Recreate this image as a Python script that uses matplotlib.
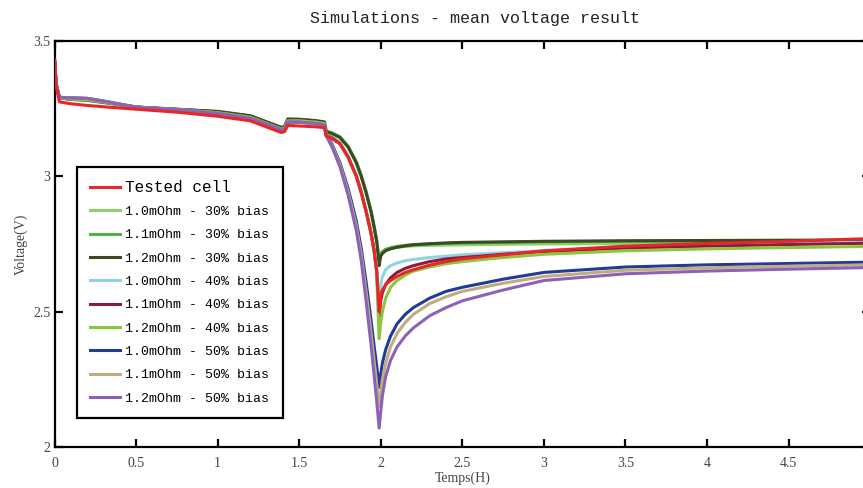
"""Simulated vs tested cell mean voltage during a discharge pulse."""

import matplotlib

matplotlib.use("Agg")
import matplotlib.pyplot as plt

# time axis (hours), shared by every series
TIME = [
    0, 0.01, 0.03, 0.1, 0.2, 0.3, 0.5, 0.75, 1.0, 1.2, 1.39, 1.41, 1.43, 1.5, 1.6, 1.655,
    1.665, 1.7, 1.75, 1.8, 1.85, 1.88, 1.91, 1.94, 1.96, 1.975, 1.99,
    2.0, 2.01, 2.03, 2.06, 2.1, 2.15, 2.2, 2.3, 2.4, 2.5, 2.75, 3.0, 3.5, 4.0, 4.5, 5.0,
]

TESTED_CELL = [
    3.43, 3.33, 3.275, 3.268, 3.262, 3.257, 3.248, 3.237, 3.222, 3.205, 3.162, 3.165, 3.188, 3.186, 3.183, 3.18,
    3.15, 3.14, 3.12, 3.07, 3.0, 2.94, 2.87, 2.79, 2.72, 2.65, 2.50,
    2.56, 2.58, 2.60, 2.615, 2.63, 2.645, 2.655, 2.672, 2.685, 2.695, 2.71, 2.725, 2.742, 2.752, 2.76, 2.77,
]

R10_B30 = [
    3.43, 3.34, 3.29, 3.284, 3.28, 3.272, 3.255, 3.247, 3.238, 3.222, 3.178, 3.18, 3.208, 3.207, 3.203, 3.198,
    3.168, 3.162, 3.147, 3.112, 3.055, 3.005, 2.945, 2.875, 2.815, 2.765, 2.70,
    2.715, 2.722, 2.73, 2.735, 2.738, 2.741, 2.743, 2.745, 2.746, 2.747, 2.749, 2.75, 2.752, 2.753, 2.754, 2.755,
]
R11_B30 = [
    3.43, 3.34, 3.29, 3.284, 3.281, 3.273, 3.256, 3.248, 3.239, 3.223, 3.18, 3.183, 3.21, 3.21, 3.205, 3.2,
    3.166, 3.16, 3.145, 3.11, 3.052, 3.002, 2.942, 2.872, 2.812, 2.762, 2.69,
    2.712, 2.72, 2.73, 2.736, 2.741, 2.745, 2.748, 2.75, 2.752, 2.754, 2.756, 2.758, 2.76, 2.761, 2.762, 2.762,
]
R12_B30 = [
    3.43, 3.34, 3.29, 3.285, 3.282, 3.274, 3.256, 3.248, 3.24, 3.224, 3.181, 3.184, 3.212, 3.211, 3.206, 3.201,
    3.165, 3.158, 3.143, 3.108, 3.05, 3.0, 2.94, 2.87, 2.81, 2.76, 2.67,
    2.705, 2.715, 2.725, 2.732, 2.738, 2.743, 2.747, 2.751, 2.754, 2.756, 2.758, 2.76, 2.762, 2.763, 2.764, 2.765,
]

R10_B40 = [
    3.43, 3.34, 3.29, 3.285, 3.283, 3.275, 3.255, 3.247, 3.235, 3.218, 3.175, 3.178, 3.205, 3.205, 3.2, 3.195,
    3.155, 3.145, 3.125, 3.075, 3.005, 2.945, 2.875, 2.795, 2.73, 2.66, 2.54,
    2.60, 2.63, 2.655, 2.67, 2.68, 2.688, 2.693, 2.70, 2.705, 2.71, 2.718, 2.725, 2.738, 2.746, 2.752, 2.757,
]
R11_B40 = [
    3.43, 3.34, 3.29, 3.285, 3.283, 3.275, 3.255, 3.247, 3.235, 3.218, 3.175, 3.178, 3.205, 3.205, 3.2, 3.195,
    3.155, 3.143, 3.122, 3.072, 3.002, 2.942, 2.872, 2.792, 2.725, 2.65, 2.48,
    2.54, 2.57, 2.60, 2.625, 2.645, 2.66, 2.67, 2.685, 2.695, 2.70, 2.712, 2.722, 2.735, 2.742, 2.748, 2.753,
]
R12_B40 = [
    3.43, 3.34, 3.29, 3.285, 3.283, 3.275, 3.255, 3.247, 3.235, 3.218, 3.175, 3.178, 3.205, 3.205, 3.2, 3.195,
    3.155, 3.14, 3.12, 3.07, 3.0, 2.94, 2.87, 2.79, 2.72, 2.64, 2.40,
    2.46, 2.50, 2.55, 2.59, 2.615, 2.635, 2.65, 2.665, 2.677, 2.685, 2.70, 2.712, 2.725, 2.732, 2.737, 2.741,
]

R10_B50 = [
    3.43, 3.34, 3.292, 3.29, 3.288, 3.278, 3.256, 3.246, 3.232, 3.214, 3.172, 3.175, 3.2, 3.2, 3.195, 3.19,
    3.155, 3.12, 3.05, 2.955, 2.835, 2.735, 2.61, 2.47, 2.37, 2.30, 2.22,
    2.27, 2.31, 2.36, 2.41, 2.455, 2.49, 2.515, 2.55, 2.575, 2.59, 2.62, 2.645, 2.665, 2.673, 2.678, 2.683,
]
R11_B50 = [
    3.43, 3.34, 3.292, 3.29, 3.288, 3.278, 3.256, 3.246, 3.232, 3.214, 3.172, 3.175, 3.2, 3.2, 3.195, 3.19,
    3.152, 3.115, 3.043, 2.943, 2.818, 2.713, 2.575, 2.425, 2.315, 2.235, 2.15,
    2.20, 2.25, 2.31, 2.37, 2.42, 2.46, 2.49, 2.53, 2.555, 2.575, 2.605, 2.63, 2.653, 2.662, 2.668, 2.673,
]
R12_B50 = [
    3.43, 3.34, 3.292, 3.29, 3.288, 3.278, 3.256, 3.246, 3.232, 3.214, 3.172, 3.175, 3.2, 3.2, 3.195, 3.19,
    3.15, 3.11, 3.035, 2.93, 2.80, 2.69, 2.54, 2.38, 2.26, 2.17, 2.07,
    2.13, 2.19, 2.26, 2.32, 2.37, 2.41, 2.44, 2.485, 2.515, 2.54, 2.58, 2.615, 2.64, 2.65, 2.657, 2.663,
]

LABELS = [
    "Tested cell",
    "1.0mOhm - 30% bias",
    "1.1mOhm - 30% bias",
    "1.2mOhm - 30% bias",
    "1.0mOhm - 40% bias",
    "1.1mOhm - 40% bias",
    "1.2mOhm - 40% bias",
    "1.0mOhm - 50% bias",
    "1.1mOhm - 50% bias",
    "1.2mOhm - 50% bias",
]
COLORS = [
    "#e8262a", "#8fd16a", "#4fb14f", "#3b4a22", "#90d4e2",
    "#8a1c3c", "#8cc63f", "#1f3c96", "#c3ab80", "#8b62b8",
]
SERIES = [
    TESTED_CELL, R10_B30, R11_B30, R12_B30, R10_B40,
    R11_B40, R12_B40, R10_B50, R11_B50, R12_B50,
]

X_TICKS = [0, 0.5, 1, 1.5, 2, 2.5, 3, 3.5, 4, 4.5, 5]
Y_TICKS = [2, 2.5, 3, 3.5]


def main() -> None:
    fig = plt.figure(figsize=(8.63, 4.88), dpi=100)
    # the right edge of the original is cropped, so the axes run past the figure
    ax = fig.add_axes([0.0632, 0.084, 0.945, 0.832])

    lines = []
    for label, values, color in zip(LABELS, SERIES, COLORS):
        (line,) = ax.plot(TIME, values, color=color, linewidth=2.2, label=label)
        lines.append(line)
    # tested cell drawn on top
    lines[0].set_zorder(5)

    ax.set_xlim(0, 5)
    ax.set_ylim(2, 3.5)
    ax.set_xticks(X_TICKS)
    # the "5" label falls off the cropped right edge in the original
    ax.set_xticklabels([f"{v:g}" if v < 5 else "" for v in X_TICKS])
    ax.set_yticks(Y_TICKS)
    ax.set_yticklabels([f"{v:g}" for v in Y_TICKS])
    ax.tick_params(direction="in", length=6, width=1.6, top=True, right=True,
                   labelsize=10, labelcolor="#444444")
    ax.tick_params(axis="x", pad=7)
    ax.tick_params(axis="y", pad=3)
    for lbl in ax.get_xticklabels() + ax.get_yticklabels():
        lbl.set_family("Liberation Serif")
    for spine in ax.spines.values():
        spine.set_linewidth(1.6)

    ax.set_xlabel("Temps(H)", family="Liberation Serif", fontsize=10, color="#444444", labelpad=1)
    ax.set_ylabel("Voltage(V)", family="Liberation Serif", fontsize=10, color="#444444", labelpad=4)

    fig.text(0.55, 0.963, "Simulations - mean voltage result", family="Liberation Mono",
             fontsize=12, ha="center", va="center", color="#222222")

    leg = ax.legend(
        handles=lines,
        loc="lower left",
        bbox_to_anchor=(0.027, 0.072),
        prop={"family": "Liberation Mono", "size": 9.5},
        fancybox=False,
        edgecolor="black",
        framealpha=1,
        handlelength=2.3,
        handletextpad=0.4,
        labelspacing=0.84,
        borderpad=1.0,
        borderaxespad=0,
    )
    leg.get_frame().set_linewidth(1.6)
    leg.get_texts()[0].set_fontsize(11.5)

    fig.savefig("out.png", dpi=100)
    plt.close(fig)


if __name__ == "__main__":
    main()
